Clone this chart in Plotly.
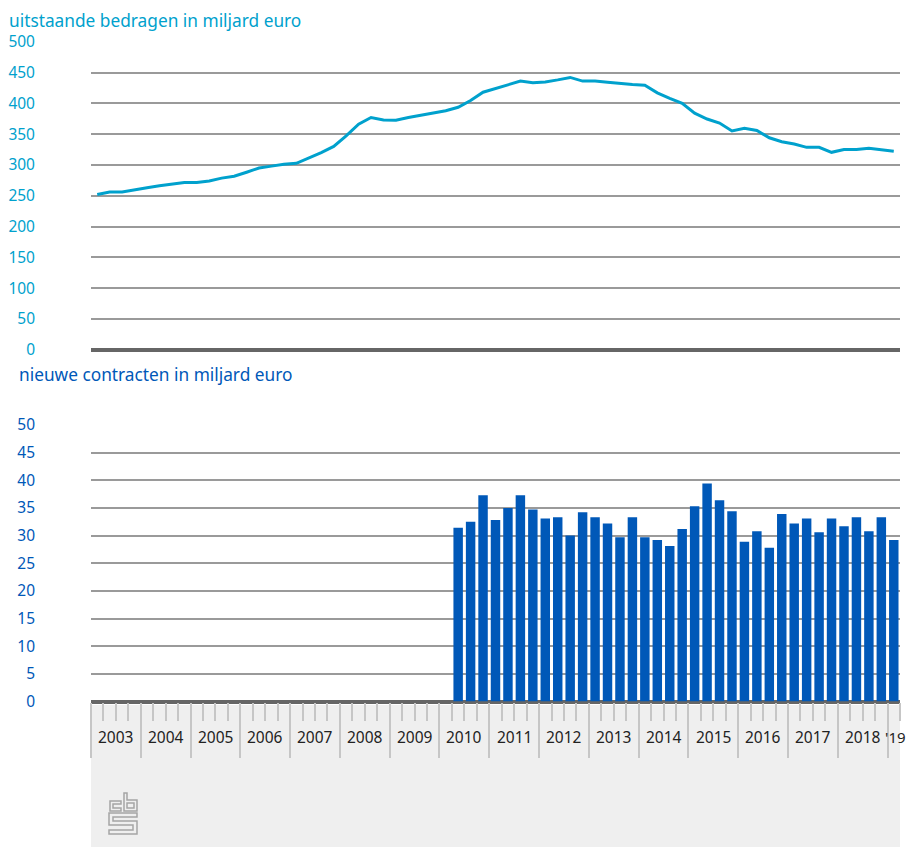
import plotly.graph_objects as go

# Uitstaande bedragen (miljard euro), per kwartaal 2003K1 t/m 2019K1
uitstaand = [252, 256, 256, 260, 263, 266, 269, 271.5, 271.5, 274,
             278.5, 281.5, 288, 295, 298, 301, 302.5, 311, 320, 330,
             347, 366, 377, 373, 372.5, 377, 380.5, 384, 388, 393.5,
             404.5, 418, 424, 431, 436, 433.5, 434.5, 438, 442, 436,
             436, 434, 432, 430.5, 429.5, 417, 408, 400, 384, 374.5,
             368, 355, 359.5, 356, 344, 337.7, 334, 328.5, 328.5, 320.4,
             325, 325, 327, 324.7, 322]

# Nieuwe contracten (miljard euro), per kwartaal 2010K2 t/m 2019K1
nieuw = [31.4, 32.5, 37.3, 32.8, 35.0, 37.3, 34.7, 33.1, 33.3, 30.0,
         34.2, 33.3, 32.2, 29.7, 33.3, 29.7, 29.2, 28.1, 31.2, 35.3,
         39.4, 36.4, 34.4, 28.9, 30.8, 27.8, 33.9, 32.2, 33.1, 30.6,
         33.1, 31.7, 33.3, 30.8, 33.3, 29.2]

jaren = [str(j) for j in range(2003, 2019)] + ["'19"]

kwartalen = [f"{j}K{k}" for j in range(2003, 2019) for k in range(1, 5)] + ["2019K1"]
x_lijn = list(range(len(uitstaand)))
start_bar = kwartalen.index("2010K2")
x_bar = list(range(start_bar, start_bar + len(nieuw)))

W, H = 906, 847
L, R = 91, 6


def px(x):
    return (x - L) / (W - L - R)


def py(y):
    return (H - y) / H


cyaan = "#00a1cd"
blauw = "#0058b8"
font = "Noto Sans"

fig = go.Figure()
fig.add_trace(go.Scatter(x=x_lijn, y=uitstaand, mode="lines",
                         line=dict(color=cyaan, width=3), xaxis="x", yaxis="y"))
fig.add_trace(go.Bar(x=x_bar, y=nieuw, marker=dict(color=blauw, line=dict(width=0)),
                     width=0.76, xaxis="x2", yaxis="y2"))

rng = [-0.5, len(kwartalen) - 0.5]
grens = [i - 0.5 for i in range(0, len(kwartalen), 4)]

fig.update_layout(
    width=W, height=H,
    margin=dict(l=L, r=R, t=0, b=0, autoexpand=False),
    paper_bgcolor="white", plot_bgcolor="white",
    showlegend=False,
    font=dict(family=font),
    xaxis=dict(range=rng, domain=[0, 1], anchor="y", showticklabels=False,
               showgrid=False, zeroline=False, ticks="", automargin=False),
    yaxis=dict(range=[0, 500], domain=[py(349.7), py(41.7)], dtick=50,
               gridcolor="#9a9a9a", gridwidth=1.5, automargin=False,
               zeroline=True, zerolinecolor="#666666", zerolinewidth=3.5,
               tickfont=dict(color=cyaan, size=15.5), ticklabelstandoff=55),
    xaxis2=dict(range=rng, domain=[0, 1], anchor="y2", showticklabels=False,
                showgrid=False, zeroline=False, showline=False, automargin=False,
                tickmode="array", tickvals=grens, ticks="outside", ticklen=55,
                tickcolor="#c6c6c6", tickwidth=1.5,
                minor=dict(tick0=-0.5, dtick=1, ticks="outside", ticklen=18,
                           tickcolor="#c6c6c6", tickwidth=1.5)),
    yaxis2=dict(range=[0, 50], domain=[py(701.5), py(425)], dtick=5,
                gridcolor="#9a9a9a", gridwidth=1.5, automargin=False,
                zeroline=True, zerolinecolor="#666666", zerolinewidth=3.5,
                tickfont=dict(color=blauw, size=15.5), ticklabelstandoff=55),
)

# grijze onderbalk
fig.add_shape(type="rect", xref="paper", yref="paper", layer="below",
              x0=px(91), x1=px(900), y0=py(705), y1=py(847),
              fillcolor="#efefef", line=dict(width=0))

# titels
fig.add_annotation(text="uitstaande bedragen in miljard euro", xref="paper", yref="paper",
                   x=px(7), y=py(20), xanchor="left", yanchor="middle", showarrow=False,
                   font=dict(color=cyaan, size=17.3))
fig.add_annotation(text="nieuwe contracten in miljard euro", xref="paper", yref="paper",
                   x=px(17), y=py(374), xanchor="left", yanchor="middle", showarrow=False,
                   font=dict(color=blauw, size=17.3))

# jaarlabels
for i, jaar in enumerate(jaren):
    if jaar.startswith("'"):
        fig.add_annotation(text=jaar, xref="x2", yref="paper", x=i * 4 + 0.1, y=py(737),
                           xanchor="center", yanchor="middle", showarrow=False,
                           font=dict(color="#222222", size=15))
    else:
        fig.add_annotation(text=jaar, xref="x2", yref="paper", x=i * 4 + 1.5, y=py(737),
                           xanchor="center", yanchor="middle", showarrow=False,
                           font=dict(color="#222222", size=15.5))

# cbs-logo
logo = [
    "M121,801 L110,801 L110,811 L121,811 L121,808 L113,808 L113,804 L121,804 Z",
    "M124,793 L127,793 L127,800 L137,800 L137,811 L124,811 Z",
    "M127,803 L134,803 L134,808 L127,808 Z",
    "M137,813 L109,813 L109,825 L133,825 L133,830 L109,830 L109,834 L137,834 "
    "L137,821 L113,821 L113,817 L137,817 Z",
]
for p in logo:
    delen = []
    for tok in p.split():
        if tok == "Z":
            delen.append("Z")
            continue
        cmd, xy = tok[0], tok[1:]
        a, b = xy.split(",")
        delen.append(f"{cmd}{px(float(a)):.5f},{py(float(b)):.5f}")
    fig.add_shape(type="path", xref="paper", yref="paper", path=" ".join(delen),
                  line=dict(color="#a5a5a5", width=1.5))

# geen paginamarge, zodat de figuur precies in het venster past
fig.write_html("out.html", config={"displayModeBar": False},
               post_script="document.body.style.margin='0';document.body.style.overflow='hidden';")
